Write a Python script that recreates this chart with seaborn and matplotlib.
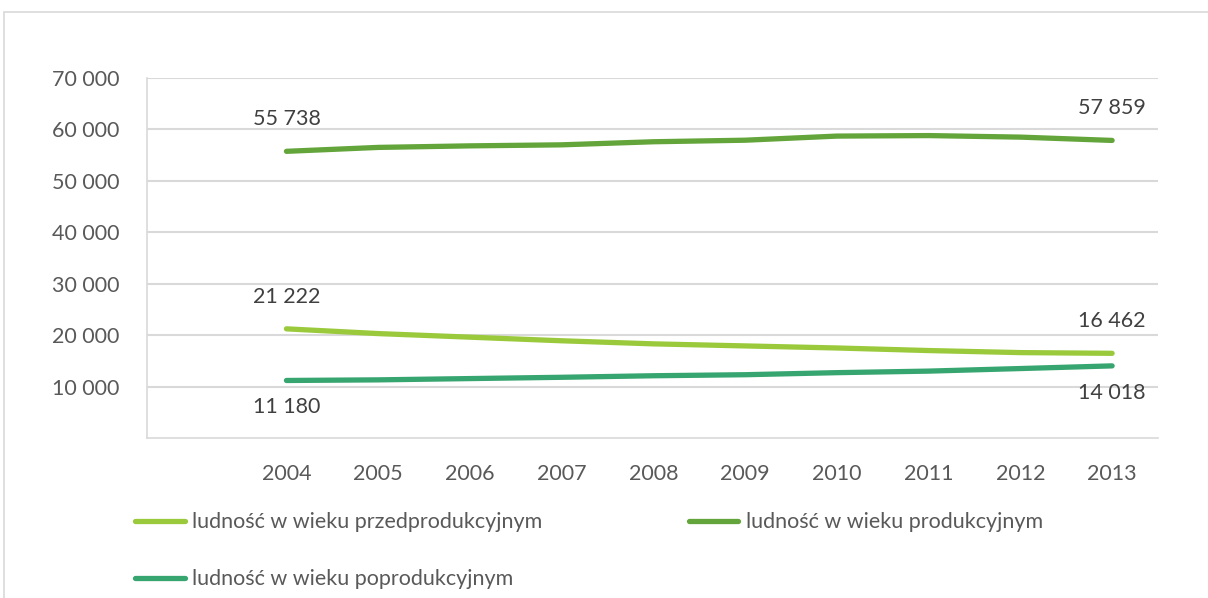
import matplotlib
matplotlib.use("Agg")
import matplotlib.pyplot as plt
import seaborn as sns
import pandas as pd
from matplotlib.lines import Line2D
from matplotlib.patches import Rectangle

years = [2004, 2005, 2006, 2007, 2008, 2009, 2010, 2011, 2012, 2013]
przed = [21222, 20300, 19600, 18900, 18300, 17900, 17500, 17000, 16600, 16462]
prod = [55738, 56500, 56800, 57000, 57600, 57900, 58700, 58800, 58500, 57859]
popro = [11180, 11300, 11550, 11800, 12100, 12300, 12700, 13000, 13500, 14018]
series_names = ["ludność w wieku przedprodukcyjnym",
                "ludność w wieku produkcyjnym",
                "ludność w wieku poprodukcyjnym"]
colors = ["#9ACA3C", "#63A53A", "#37A56F"]
yticks = [10000, 20000, 30000, 40000, 50000, 60000, 70000]

def fmt(v):
    return f"{v:,}".replace(",", " ")

sns.set_theme(style="white")
plt.rcParams['font.family'] = ['Lato', 'DejaVu Sans']
FS = 15.5

rows = []
for name, vals in zip(series_names, [przed, prod, popro]):
    for i, v in enumerate(vals):
        rows.append({"pos": i, "year": years[i], "value": v, "series": name})
df = pd.DataFrame(rows)

fig = plt.figure(figsize=(12.08, 5.98), dpi=100)
ax = fig.add_axes([0.1217, 0.2676, 0.8369, 0.602])

sns.lineplot(data=df, x="pos", y="value", hue="series", hue_order=series_names,
             palette=colors, linewidth=3.8, ax=ax, legend=False,
             solid_capstyle="round")

ax.set_xlim(-1.52, 9.5)
ax.set_ylim(0, 70000)
ax.set_yticks(yticks)
ax.set_yticklabels([fmt(t) for t in yticks], fontsize=FS, color="#595959")
ax.set_xticks(range(len(years)))
ax.set_xticklabels([str(y) for y in years], fontsize=FS, color="#595959")
ax.tick_params(axis="both", length=0)
ax.tick_params(axis="y", pad=20)
ax.tick_params(axis="x", pad=19)
ax.set_xlabel("")
ax.set_ylabel("")
ax.grid(axis="y", color="#D9D9D9", linewidth=1.5)
ax.set_axisbelow(True)
for s in ["top", "right"]:
    ax.spines[s].set_visible(False)
for s in ["left", "bottom"]:
    ax.spines[s].set_color("#D9D9D9")
    ax.spines[s].set_linewidth(1.2)

# data labels
lab_kw = dict(textcoords="offset points", ha="center", fontsize=FS, color="#404040")
ax.annotate(fmt(prod[0]), (0, prod[0]), xytext=(0, 16), va="bottom", **lab_kw)
ax.annotate(fmt(prod[-1]), (9, prod[-1]), xytext=(0, 16), va="bottom", **lab_kw)
ax.annotate(fmt(przed[0]), (0, przed[0]), xytext=(0, 16), va="bottom", **lab_kw)
ax.annotate(fmt(przed[-1]), (9, przed[-1]), xytext=(0, 16), va="bottom", **lab_kw)
ax.annotate(fmt(popro[0]), (0, popro[0]), xytext=(0, -12), va="top", **lab_kw)
ax.annotate(fmt(popro[-1]), (9, popro[-1]), xytext=(0, -12), va="top", **lab_kw)

handles = [Line2D([0], [0], color=c, lw=3.8, solid_capstyle="round") for c in colors]
order = [0, 2, 1]
fig.legend([handles[i] for i in order], [series_names[i] for i in order],
           loc="upper left", bbox_to_anchor=(0.103, 0.161), ncol=2,
           frameon=False, fontsize=FS, handlelength=2.3, handletextpad=0.35,
           columnspacing=6.8, labelspacing=1.7, borderpad=0, labelcolor="#595959")

fig.patches.append(Rectangle((0.0035, -0.05), 1.1, 0.05 + 1 - 12 / 598,
                             transform=fig.transFigure, fill=False,
                             edgecolor="#D9D9D9", linewidth=1.2))

fig.savefig("out.png", dpi=100)
